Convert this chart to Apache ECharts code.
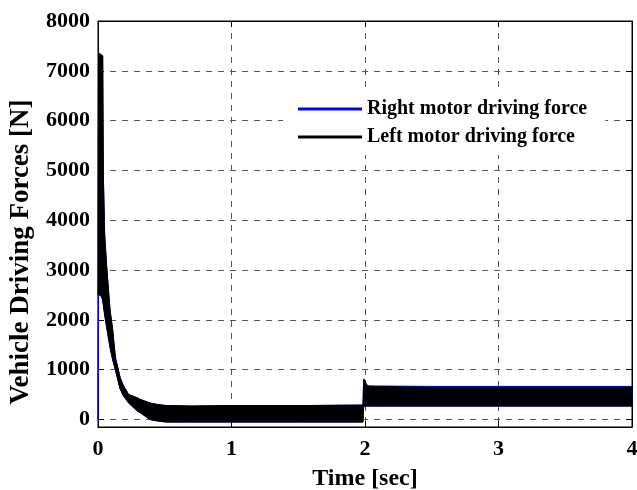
<!DOCTYPE html>
<html>
<head>
<meta charset="utf-8">
<script src="https://cdn.jsdelivr.net/npm/echarts@6/dist/echarts.min.js"></script>
<style>
  html, body, #main { width: 100%; height: 100%; margin: 0; background: #fff; }
</style>
</head>
<body>
<div id="main"></div>
<script>
// time samples of the force envelopes [sec]
var tEnv = [0, 0.004, 0.02, 0.035, 0.04, 0.05, 0.065, 0.09, 0.11, 0.13, 0.165, 0.19, 0.23, 0.29, 0.32, 0.39, 0.45, 0.51, 0.7, 1.0, 1.5, 1.985, 1.99, 2.0, 2.01, 2.03, 2.5, 3.0, 3.5, 4.0];

// left motor (black) band: lower / upper edge of the oscillation [N]
var leftLower = [2500, 2500, 2500, 2400, 2300, 2100, 1850, 1450, 1200, 1000, 620, 480, 330, 180, 130, 0, -30, -50, -50, -50, -50, -50, 270, 270, 270, 270, 270, 270, 270, 270];
var leftUpper = [2500, 7350, 7330, 7300, 4900, 3700, 3070, 2200, 1800, 1250, 850, 680, 500, 440, 400, 330, 300, 280, 270, 280, 280, 290, 800, 780, 690, 660, 650, 650, 650, 650];

// right motor (blue) band, hidden under the black one except at t=0 and above it after 2 s
var rightLower = [0, 2500, 2500, 2400, 2300, 2100, 1850, 1450, 1200, 1000, 620, 480, 330, 180, 130, 0, -30, -50, -50, -50, -50, -50, 270, 270, 270, 270, 270, 270, 270, 270];
var rightUpper = [0, 7350, 7330, 7300, 4900, 3700, 3070, 2200, 1800, 1250, 850, 680, 500, 440, 400, 330, 300, 280, 270, 280, 280, 290, 810, 795, 705, 675, 665, 665, 665, 665];

var xTicks = [0, 1, 2, 3, 4];
var yTicks = [0, 1000, 2000, 3000, 4000, 5000, 6000, 7000, 8000];

var font = 'Liberation Serif';

var chart = echarts.init(document.getElementById('main'));

// draws the whole oscillation band as one polygon, upper edge then lower edge back
function bandSeries(name, color, lower, upper) {
  return {
    name: name,
    type: 'custom',
    color: color,
    coordinateSystem: 'cartesian2d',
    data: [[tEnv[0], lower[0]]],
    renderItem: function (params, api) {
      var pts = [];
      for (var i = 0; i < tEnv.length; i++) pts.push(api.coord([tEnv[i], upper[i]]));
      for (var j = tEnv.length - 1; j >= 0; j--) pts.push(api.coord([tEnv[j], lower[j]]));
      return {
        type: 'polygon',
        shape: { points: pts },
        style: { fill: color, stroke: color, lineWidth: 1 }
      };
    }
  };
}

var axisLine = { show: true, onZero: false, lineStyle: { color: '#000', width: 1 } };
var axisTick = { show: true, inside: true, length: 6, lineStyle: { color: '#000' } };
var gridLine = { show: true, showMinLine: false, showMaxLine: false, lineStyle: { color: '#555', type: [6, 6], width: 1 } };
var tickFont = { fontFamily: font, fontWeight: 'bold', fontSize: 22, color: '#000' };

chart.setOption({
  animation: false,
  backgroundColor: '#fff',
  grid: {
    left: 98, right: 5, top: 21, bottom: 63,
    containLabel: false,
    outerBoundsMode: 'none',
    show: true, borderColor: '#000', borderWidth: 1
  },
  legend: {
    left: 283, top: 91,
    orient: 'vertical',
    backgroundColor: '#fff',
    padding: [8, 18, 8, 15],
    itemGap: 8,
    itemWidth: 64, itemHeight: 3,
    data: [
      { name: 'Right motor driving force', icon: 'rect' },
      { name: 'Left motor driving force', icon: 'rect' }
    ],
    textStyle: { fontFamily: font, fontWeight: 'bold', fontSize: 20, color: '#000' }
  },
  xAxis: [{
    type: 'value',
    min: xTicks[0], max: xTicks[xTicks.length - 1], interval: 1,
    name: 'Time [sec]',
    nameLocation: 'middle',
    nameGap: 40,
    nameTextStyle: { fontFamily: font, fontWeight: 'bold', fontSize: 24, color: '#000' },
    axisLine: axisLine,
    axisTick: axisTick,
    axisLabel: Object.assign({ margin: 11 }, tickFont),
    splitLine: gridLine
  }, {
    type: 'value', position: 'top',
    min: xTicks[0], max: xTicks[xTicks.length - 1], interval: 1,
    axisLine: axisLine, axisTick: axisTick,
    axisLabel: { show: false }, splitLine: { show: false }
  }],
  yAxis: [{
    type: 'value',
    min: -150, max: yTicks[yTicks.length - 1], splitNumber: 8,
    axisLine: axisLine,
    axisTick: axisTick,
    axisLabel: Object.assign({
      showMinLabel: false, margin: 8,
      formatter: function (v) { return String(v); }
    }, tickFont),
    splitLine: gridLine
  }, {
    type: 'value', position: 'right',
    min: -150, max: yTicks[yTicks.length - 1], splitNumber: 8,
    axisLine: axisLine, axisTick: axisTick,
    axisLabel: { show: false }, splitLine: { show: false }
  }],
  graphic: [{
    type: 'text',
    x: 21, y: 252,
    rotation: Math.PI / 2,
    style: {
      text: 'Vehicle Driving Forces [N]',
      font: 'bold 27px "Liberation Serif"',
      fill: '#000',
      align: 'center',
      verticalAlign: 'middle'
    }
  }],
  series: [
    bandSeries('Right motor driving force', '#0000ff', rightLower, rightUpper),
    bandSeries('Left motor driving force', '#000000', leftLower, leftUpper)
  ]
});
</script>
</body>
</html>
